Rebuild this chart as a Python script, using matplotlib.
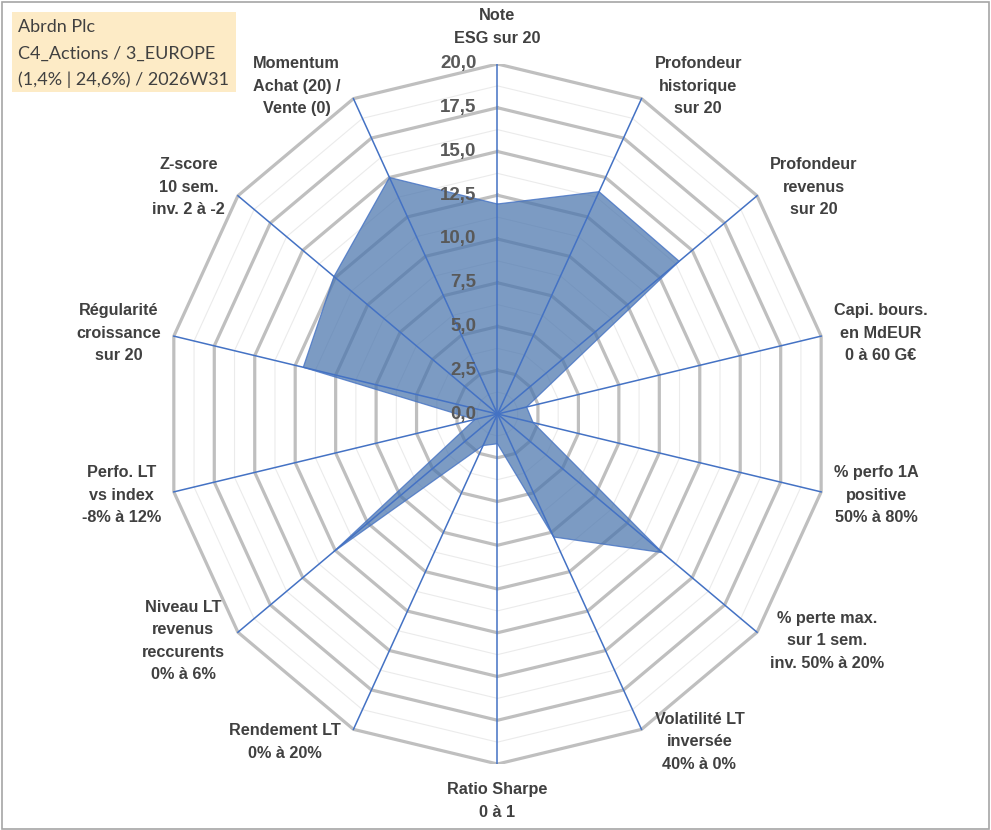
import numpy as np
import matplotlib.pyplot as plt
from matplotlib.patches import Rectangle

# axis labels, clockwise from the top
labels = [
    "Note\nESG sur 20",
    "Profondeur\nhistorique\nsur 20",
    "Profondeur\nrevenus\nsur 20",
    "Capi. bours.\nen MdEUR\n0 à 60 G€",
    "% perfo 1A\npositive\n50% à 80%",
    "% perte max.\nsur 1 sem.\ninv. 50% à 20%",
    "Volatilité LT\ninversée\n40% à 0%",
    "Ratio Sharpe\n0 à 1",
    "Rendement LT\n0% à 20%",
    "Niveau LT\nrevenus\nreccurents\n0% à 6%",
    "Perfo. LT\nvs index\n-8% à 12%",
    "Régularité\ncroissance\nsur 20",
    "Z-score\n10 sem.\ninv. 2 à -2",
    "Momentum\nAchat (20) /\nVente (0)",
]
scores = [12.0, 14.1, 14.0, 1.8, 2.2, 12.7, 7.8, 1.7, 2.0, 12.6, 1.4, 12.0, 12.6, 15.0]
ticks = [0.0, 2.5, 5.0, 7.5, 10.0, 12.5, 15.0, 17.5, 20.0]
title_lines = ["Abrdn Plc", "C4_Actions / 3_EUROPE", "(1,4% | 24,6%) / 2026W31"]

rmax = 20.0
n = len(labels)
theta = 2 * np.pi * np.arange(n) / n
sx, sy = np.sin(theta), np.cos(theta)
sx[np.abs(sx) < 1e-9] = 0.0

plt.rcParams['font.family'] = ['Liberation Sans', 'DejaVu Sans']

fig = plt.figure(figsize=(9.91, 8.30), dpi=100)
fig.patch.set_facecolor('white')

# radar area (slightly wider than tall, like the source)
ax = fig.add_axes([0.1670, 0.0795, 0.6700, 0.8434])
ax.set_xlim(-rmax, rmax)
ax.set_ylim(-rmax, rmax)
ax.axis('off')

# polygon grid: light minor rings + grey major rings
for r in np.arange(1.25, rmax + 0.01, 1.25):
    xs = np.append(r * sx, r * sx[0])
    ys = np.append(r * sy, r * sy[0])
    if abs(r / 2.5 - round(r / 2.5)) < 1e-6:
        ax.plot(xs, ys, color='#BFBFBF', lw=2.3, zorder=1, solid_joinstyle='miter')
    else:
        ax.plot(xs, ys, color='#EBEBEB', lw=0.8, zorder=1)

# filled series
px = np.array(scores) * sx
py = np.array(scores) * sy
ax.fill(px, py, facecolor='#4A75AD', alpha=0.72, edgecolor='none', zorder=2)
ax.plot(np.append(px, px[0]), np.append(py, py[0]), color='#4472C4', lw=0.9,
        alpha=0.8, zorder=3)

# spokes
for i in range(n):
    ax.plot([0, rmax * sx[i]], [0, rmax * sy[i]], color='#4472C4', lw=1.1, zorder=4)

# radial tick labels
for t in ticks:
    ax.text(-1.25, t, f"{t:.1f}".replace('.', ','), ha='right', va='center',
            fontsize=13.5, fontweight='bold', color='#595959', zorder=5)

# category labels, anchored next to the outer vertex like Excel does
for i, lab in enumerate(labels):
    if sx[i] == 0:
        ha, off = 'center', (0, 37 * np.sign(sy[i]))
    else:
        ha = 'left' if sx[i] > 0 else 'right'
        off = (13 * np.sign(sx[i]), 14 * sy[i])
    ax.annotate(lab, xy=(rmax * sx[i], rmax * sy[i]), xytext=off,
                textcoords='offset pixels', ha=ha, va='center', ma='center',
                fontsize=11.7, fontweight='bold', color='#404040',
                linespacing=1.6, annotation_clip=False)

# title box
fig.patches.append(Rectangle((12 / 991, 1 - 92 / 830), 224 / 991, 80 / 830,
                             transform=fig.transFigure, facecolor='#FDEBC6',
                             edgecolor='none', zorder=0))
for k, line in enumerate(title_lines):
    fig.text(18 / 991, 1 - (27 + 26.5 * k) / 830, line, ha='left', va='center',
             fontsize=13.0, color='#404040', family=['Lato', 'DejaVu Sans'])

# outer frame
fig.patches.append(Rectangle((1.5 / 991, 1.5 / 830), 987 / 991, 826 / 830,
                             transform=fig.transFigure, facecolor='none',
                             edgecolor='#A6A6A6', lw=1.2))

fig.savefig('out.png', dpi=100)
